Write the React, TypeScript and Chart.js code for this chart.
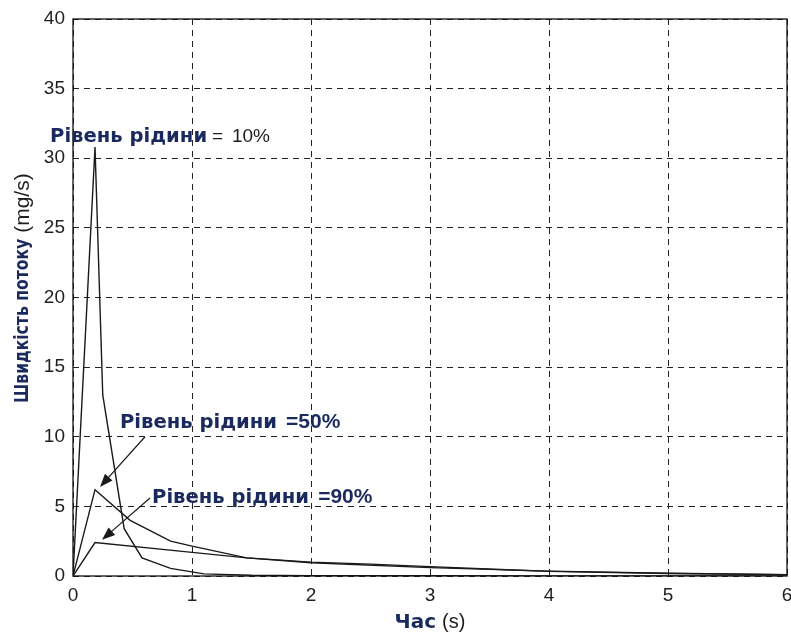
import React, { useEffect, useRef } from "react";
import { Chart, registerables } from "chart.js";

Chart.register(...registerables);

// ---- data ----
const xTicks = [0, 1, 2, 3, 4, 5, 6];
const yTicks = [0, 5, 10, 15, 20, 25, 30, 35, 40];

const time10 = [0, 0.185, 0.25, 0.43, 0.58, 0.82, 1.1, 1.5, 2, 3, 4, 5, 6];
const flow10 = [0, 30.8, 13, 3.4, 1.3, 0.55, 0.15, 0.05, 0.03, 0.02, 0.01, 0.01, 0];

const time50 = [0, 0.185, 0.48, 0.82, 1.0, 1.46, 2, 2.5, 3, 3.7, 4, 5, 6];
const flow50 = [0, 6.2, 4.0, 2.5, 2.15, 1.3, 1.0, 0.85, 0.67, 0.43, 0.33, 0.18, 0.1];

const time90 = [0, 0.185, 1.0, 1.46, 2, 3, 4, 5, 6];
const flow90 = [0, 2.4, 1.7, 1.3, 0.95, 0.6, 0.35, 0.2, 0.1];

const labelText = "Рівень рідини";
const label10 = "10%";
const label50 = "=50%";
const label90 = "=90%";
const xTitleMain = "Час";
const xTitleUnit = "(s)";
const yTitleMain = "Швидкість потоку";
const yTitleUnit = "(mg/s)";

const NAVY = "#1b2a5e";
const GRAY = "#1e1e1e";
const BOLD = (s: number) => `bold ${s}px "DejaVu Sans", sans-serif`;
const BOLDN = (s: number) => `bold ${s}px "Liberation Sans", Arial, sans-serif`;
const REG = (s: number) => `${s}px "Liberation Sans", Arial, sans-serif`;

const pts = (xs: number[], ys: number[]) => xs.map((x, i) => ({ x, y: ys[i] }));

function drawArrow(ctx: CanvasRenderingContext2D, x1: number, y1: number, x2: number, y2: number) {
  const ang = Math.atan2(y2 - y1, x2 - x1);
  const len = 13;
  const w = 5;
  ctx.beginPath();
  ctx.moveTo(x1, y1);
  ctx.lineTo(x2 - Math.cos(ang) * len * 0.6, y2 - Math.sin(ang) * len * 0.6);
  ctx.stroke();
  ctx.beginPath();
  ctx.moveTo(x2, y2);
  ctx.lineTo(x2 - Math.cos(ang) * len - Math.sin(ang) * w, y2 - Math.sin(ang) * len + Math.cos(ang) * w);
  ctx.lineTo(x2 - Math.cos(ang) * len + Math.sin(ang) * w, y2 - Math.sin(ang) * len - Math.cos(ang) * w);
  ctx.closePath();
  ctx.fill();
}

const annotPlugin = {
  id: "annot",
  afterDraw(chart: any) {
    const { ctx, chartArea: ca } = chart;
    const xs = chart.scales.x;
    const ys = chart.scales.y;
    const px = (v: number) => xs.getPixelForValue(v);
    const py = (v: number) => ys.getPixelForValue(v);
    ctx.save();
    // frame
    ctx.setLineDash([]);
    ctx.strokeStyle = "#111";
    ctx.lineWidth = 1.3;
    ctx.strokeRect(ca.left, ca.top, ca.right - ca.left, ca.bottom - ca.top);

    // arrows
    ctx.strokeStyle = "#1a1a1a";
    ctx.fillStyle = "#1a1a1a";
    ctx.lineWidth = 1.2;
    drawArrow(ctx, px(0.605), py(10.0), px(0.227), py(6.4));
    drawArrow(ctx, px(0.647), py(5.6), px(0.244), py(2.6));

    // labels
    ctx.textBaseline = "alphabetic";
    ctx.textAlign = "left";
    ctx.font = BOLD(19.6);
    ctx.fillStyle = NAVY;
    ctx.fillText(labelText, px(-0.193), py(31.15));
    ctx.fillText(labelText, px(0.395), py(10.65));
    ctx.fillText(labelText, px(0.664), py(5.25));
    ctx.font = BOLDN(21);
    ctx.fillText(label50, px(1.79), py(10.65));
    ctx.fillText(label90, px(2.06), py(5.25));
    ctx.font = REG(19);
    ctx.fillStyle = GRAY;
    ctx.fillText("=", px(1.168), py(31.15));
    ctx.fillText(label10, px(1.336), py(31.15));

    // x title
    const xt = (ca.left + ca.right) / 2;
    ctx.font = BOLD(20);
    const wMain = ctx.measureText(xTitleMain).width;
    ctx.font = REG(20);
    const wUnit = ctx.measureText(xTitleUnit).width;
    const gap = 6;
    const startX = xt - (wMain + gap + wUnit) / 2;
    ctx.font = BOLD(20);
    ctx.fillStyle = NAVY;
    ctx.fillText(xTitleMain, startX, ca.bottom + 52);
    ctx.font = REG(20);
    ctx.fillStyle = GRAY;
    ctx.fillText(xTitleUnit, startX + wMain + gap, ca.bottom + 52);

    // y title
    ctx.translate(ca.left - 50, ca.bottom - 173);
    ctx.rotate(-Math.PI / 2);
    ctx.textBaseline = "middle";
    ctx.save();
    ctx.scale(0.78, 1);
    ctx.font = BOLD(20);
    ctx.fillStyle = NAVY;
    const wy = ctx.measureText(yTitleMain).width * 0.78;
    ctx.fillText(yTitleMain, 0, 0);
    ctx.restore();
    ctx.font = REG(21);
    ctx.fillStyle = GRAY;
    ctx.fillText(yTitleUnit, wy + 6, 0);
    ctx.restore();
  },
};

export default function App() {
  const ref = useRef<HTMLCanvasElement | null>(null);
  useEffect(() => {
    if (!ref.current) return;
    const lineStyle = {
      borderColor: "#1a1a1a",
      borderWidth: 1.4,
      pointRadius: 0,
      showLine: true,
      tension: 0,
      fill: false,
    };
    const chart = new Chart(ref.current, {
      type: "scatter",
      data: {
        datasets: [
          { label: "10%", data: pts(time10, flow10), ...lineStyle },
          { label: "50%", data: pts(time50, flow50), ...lineStyle },
          { label: "90%", data: pts(time90, flow90), ...lineStyle },
        ],
      },
      options: {
        responsive: false,
        animation: false,
        devicePixelRatio: 1,
        layout: { padding: { top: 19, right: 4, left: 0, bottom: 0 } },
        plugins: { legend: { display: false }, tooltip: { enabled: false } },
        scales: {
          x: {
            type: "linear",
            min: 0,
            max: 6,
            afterBuildTicks: (s: any) => {
              s.ticks = xTicks.map((v) => ({ value: v }));
            },
            afterFit: (s: any) => {
              s.height = 58;
              s.paddingLeft = 0;
              s.paddingRight = 0;
            },
            ticks: {
              font: { family: '"Liberation Sans", Arial, sans-serif', size: 19 },
              color: GRAY,
              padding: 8,
              maxRotation: 0,
            },
            grid: { color: "#222", lineWidth: 1, drawTicks: false },
            border: { display: false, dash: [6, 5] },
          },
          y: {
            type: "linear",
            min: 0,
            max: 40,
            afterBuildTicks: (s: any) => {
              s.ticks = yTicks.map((v) => ({ value: v }));
            },
            afterFit: (s: any) => {
              s.width = 73;
              s.paddingTop = 0;
              s.paddingBottom = 0;
            },
            ticks: {
              font: { family: '"Liberation Sans", Arial, sans-serif', size: 19 },
              color: GRAY,
              padding: 8,
            },
            grid: { color: "#222", lineWidth: 1, drawTicks: false },
            border: { display: false, dash: [6, 5] },
          },
        },
      },
      plugins: [annotPlugin],
    } as any);
    return () => chart.destroy();
  }, []);
  return (
    <div style={{ position: "absolute", left: 0, top: 0, width: 791, height: 634, background: "#fff" }}>
      <canvas ref={ref} width={791} height={634} style={{ width: 791, height: 634, display: "block" }} />
    </div>
  );
}
